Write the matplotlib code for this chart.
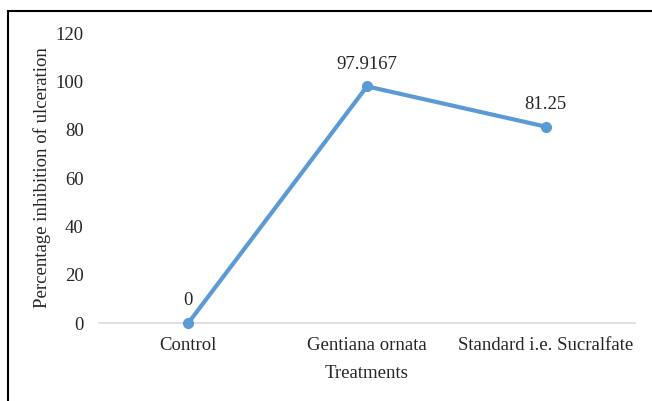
import matplotlib.pyplot as plt
from matplotlib.patches import Rectangle

# === DADOS ===
categorias = ["Control", "Gentiana ornata", "Standard i.e. Sucralfate"]
inibicao = [0, 97.9167, 81.25]
rotulos = ["0", "97.9167", "81.25"]
y_ticks = [0, 20, 40, 60, 80, 100, 120]

plt.rcParams["font.family"] = ["Liberation Serif", "DejaVu Serif"]
COR_TEXTO = "#262626"
COR_LINHA = "#5B9BD5"
FS = 13.5

fig = plt.figure(figsize=(6.52, 4.01), dpi=100)
ax = fig.add_axes([0.1518, 0.1945, 0.974 - 0.1518, 0.9177 - 0.1945])

x = list(range(len(categorias)))
ax.plot(x, inibicao, color=COR_LINHA, linewidth=3, marker="o", markersize=7,
        solid_capstyle="round", zorder=3, clip_on=False)

for xi, yi, txt in zip(x, inibicao, rotulos):
    ax.annotate(txt, (xi, yi), xytext=(0, 16), textcoords="offset points",
                ha="center", va="center", fontsize=FS, color=COR_TEXTO)

ax.set_xlim(-0.5, 2.5)
ax.set_ylim(0, 120)
ax.set_yticks(y_ticks)
ax.set_xticks(x)
ax.set_xticklabels(categorias)
ax.tick_params(axis="both", length=0, labelsize=FS, labelcolor=COR_TEXTO)
ax.tick_params(axis="y", pad=11)
ax.tick_params(axis="x", pad=10)

for lado in ["top", "right", "left"]:
    ax.spines[lado].set_visible(False)
ax.spines["bottom"].set_color("#D9D9D9")
ax.spines["bottom"].set_linewidth(1.2)

ax.set_xlabel("Treatments", fontsize=FS, color=COR_TEXTO, labelpad=8)
ax.set_ylabel("Percentage inhibition of ulceration", fontsize=FS,
              color=COR_TEXTO, labelpad=3)

# moldura do gráfico
fig.patches.append(Rectangle((8 / 652, -0.05), 1.0, 1 - 11 / 401 + 0.05,
                             transform=fig.transFigure, fill=False,
                             edgecolor="black", linewidth=1.5))

fig.savefig("out.png", dpi=100)
